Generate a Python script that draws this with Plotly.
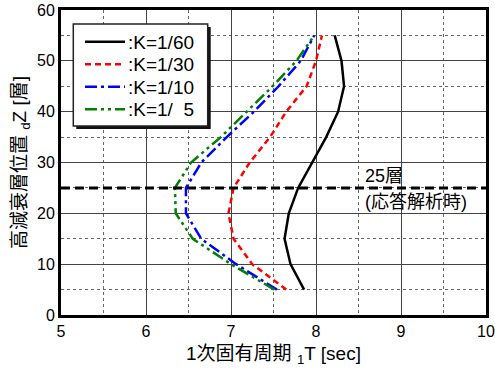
import plotly.graph_objects as go

# Height of the high-damping layer (storey number)
layer = [5, 10, 15, 20, 25, 30, 35, 40, 45, 50, 55]

# First natural period 1T [sec] for each stiffness ratio K
period_k60 = [7.86, 7.70, 7.63, 7.68, 7.79, 7.96, 8.12, 8.26, 8.33, 8.30, 8.22]
period_k30 = [7.65, 7.25, 7.03, 6.97, 7.03, 7.22, 7.46, 7.65, 7.89, 8.00, 8.07]
period_k10 = [7.54, 7.06, 6.65, 6.47, 6.47, 6.65, 6.95, 7.27, 7.56, 7.82, 7.98]
period_k5 = [7.51, 7.00, 6.55, 6.35, 6.34, 6.53, 6.88, 7.18, 7.49, 7.77, 7.98]

labels = [":K=1/60", ":K=1/30", ":K=1/10", ":K=1/\u00a0\u00a05"]
values = [period_k60, period_k30, period_k10, period_k5]
colors = ["black", "#ff0000", "#0000ff", "#008000"]
dashes = ["solid", "6px,4px", "12px,4px,3px,4px", "12px,4px,3px,4px,3px,4px"]

analysis_layer = 25

W, H = 495, 374
M_L, M_R, M_T, M_B = 61, 9, 10, 59
PW, PH = W - M_L - M_R, H - M_T - M_B


def px_x(x):
    """Pixel column -> paper x."""
    return (x - M_L) / PW


def px_y(y):
    """Pixel row -> paper y."""
    return (H - M_B - y) / PH


fig = go.Figure()
for name, vals, color, dash in zip(labels, values, colors, dashes):
    fig.add_trace(go.Scatter(
        x=vals, y=layer, mode="lines", name=name, showlegend=False,
        line=dict(color=color, width=2.5, dash=dash),
    ))

# Layer used in the response analysis
fig.add_shape(type="line", xref="paper", x0=0, x1=1, yref="y",
              y0=analysis_layer, y1=analysis_layer,
              line=dict(color="black", width=3, dash="9px,5px"), layer="above")
fig.add_annotation(x=8.553, y=analysis_layer + 2.35, text="25層", showarrow=False,
                   xanchor="left", font=dict(size=18))
fig.add_annotation(x=8.553, y=analysis_layer - 2.8, text="(応答解析時)", showarrow=False,
                   xanchor="left", font=dict(size=18))

# Legend box with drop shadow
box_l, box_t, box_r, box_b = 73.3, 24, 207.7, 126
fig.add_shape(type="rect", xref="paper", yref="paper",
              x0=px_x(box_l + 3), x1=px_x(box_r + 3), y0=px_y(box_b + 3), y1=px_y(box_t + 3),
              fillcolor="#111", line=dict(width=0), layer="above")
fig.add_shape(type="rect", xref="paper", yref="paper",
              x0=px_x(box_l), x1=px_x(box_r), y0=px_y(box_b), y1=px_y(box_t),
              fillcolor="white", line=dict(color="#222", width=1.5), layer="above")

row_y = [41.7, 64.3, 86.7, 109.3]
for name, color, dash, ry in zip(labels, colors, dashes, row_y):
    fig.add_shape(type="line", xref="paper", yref="paper",
                  x0=px_x(85), x1=px_x(125), y0=px_y(ry), y1=px_y(ry),
                  line=dict(color=color, width=2.5, dash=dash), layer="above")
    fig.add_annotation(xref="paper", yref="paper", x=px_x(125.5), y=px_y(ry + 0.5),
                       text=name, showarrow=False, xanchor="left", yanchor="middle",
                       font=dict(size=19))

font_family = "Liberation Sans, Arial, Noto Sans CJK JP, sans-serif"
fig.update_layout(
    width=W, height=H,
    margin=dict(l=M_L, r=M_R, t=M_T, b=M_B),
    paper_bgcolor="white", plot_bgcolor="white",
    font=dict(family=font_family, size=16, color="black"),
    showlegend=False,
    xaxis=dict(range=[5, 10], dtick=1, tick0=5, showgrid=True,
               gridcolor="#444", gridwidth=1,
               minor=dict(dtick=0.5, showgrid=True, gridcolor="#666", griddash="3px,3px", gridwidth=1),
               showline=True, linecolor="black", linewidth=3, mirror=True,
               ticks="", zeroline=False, automargin=False,
               title=dict(text="1次固有周期 <sub>1</sub>T [sec]", standoff=8)),
    yaxis=dict(range=[0, 60], dtick=10, tick0=0, showgrid=True,
               gridcolor="#444", gridwidth=1,
               minor=dict(dtick=5, showgrid=True, gridcolor="#666", griddash="3px,3px", gridwidth=1),
               showline=True, linecolor="black", linewidth=3, mirror=True,
               ticks="", zeroline=False, automargin=False,
               title=dict(text="高減衰層位置 <sub>d</sub>Z [層]", standoff=6)),
)

fig.write_html("out.html")
